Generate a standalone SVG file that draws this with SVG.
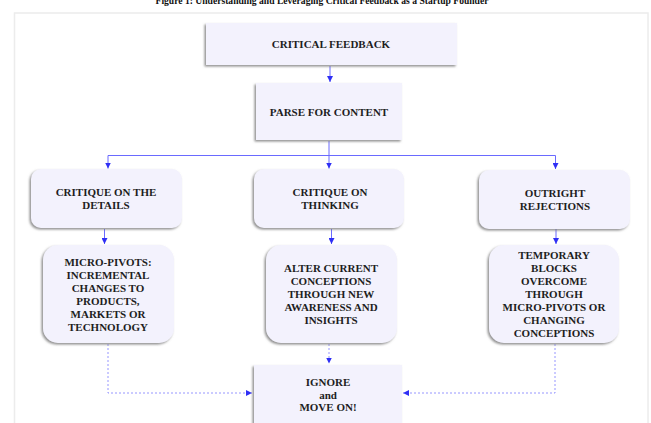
<svg xmlns="http://www.w3.org/2000/svg" width="651" height="423" viewBox="0 0 651 423">
<defs>
<filter id="sh" x="-10%" y="-10%" width="120%" height="125%">
<feDropShadow dx="-1.5" dy="1.5" stdDeviation="0.9" flood-color="#7a7a7a" flood-opacity="0.85"/>
</filter>
<marker id="ah" markerUnits="userSpaceOnUse" markerWidth="6" markerHeight="6" viewBox="0 0 6 6" refX="6" refY="3" orient="auto">
<path d="M0,0 L6,3 L0,6 Z" fill="#2f2ff5"/>
</marker>
</defs>
<style>
.box{fill:#f3f2fd;filter:url(#sh);}
.t{font-family:"Liberation Serif","Times New Roman",serif;font-weight:bold;font-size:11px;fill:#1e1e1e;text-anchor:middle;}
.title{font-family:"Liberation Serif","Times New Roman",serif;font-weight:bold;font-size:9.6px;fill:#111;text-anchor:middle;}
.c{fill:none;stroke:#6a6aff;stroke-width:1;marker-end:url(#ah);}
.d{fill:none;stroke:#8a8aff;stroke-width:0.9;stroke-dasharray:2 2;marker-end:url(#ah);}
</style>
<rect width="651" height="423" fill="#ffffff"/>
<text class="title" x="322" y="4">Figure 1: Understanding and Leveraging Critical Feedback as a Startup Founder</text>
<rect x="14.5" y="13" width="633.5" height="420" fill="none" stroke="#ececec" stroke-width="1.5"/>

<g id="connectors">
<path class="c" d="M330,66 V82"/>
<path class="c" d="M329,141 V155.5 H108 V168.5"/>
<path class="c" d="M329,155.5 V168.5"/>
<path class="c" d="M329,155.5 H555.5 V169"/>
<path class="c" d="M104.5,229 V244"/>
<path class="c" d="M331.5,229 V244"/>
<path class="c" d="M556,229 V244"/>
<path class="d" d="M108,344 V393 H252"/>
<path class="d" d="M329,344 V363.5"/>
<path class="d" d="M555,344 V393 H403"/>
</g>

<g id="critical-feedback">
<rect class="box" x="206" y="23" width="251" height="42"/>
<text class="t" x="331" y="48">CRITICAL FEEDBACK</text>
</g>
<g id="parse-for-content">
<rect class="box" x="256" y="83" width="146" height="57"/>
<text class="t" x="329" y="116">PARSE FOR CONTENT</text>
</g>
<g id="critique-details">
<rect class="box" x="31" y="169" width="151" height="59" rx="10"/>
<text class="t" x="106" y="196"><tspan x="106">CRITIQUE ON THE</tspan><tspan x="106" dy="13">DETAILS</tspan></text>
</g>
<g id="critique-thinking">
<rect class="box" x="254" y="169" width="150" height="59" rx="10"/>
<text class="t" x="330" y="196"><tspan x="330">CRITIQUE ON</tspan><tspan x="330" dy="13">THINKING</tspan></text>
</g>
<g id="outright-rejections">
<rect class="box" x="479" y="170" width="151" height="59" rx="10"/>
<text class="t" x="555" y="197"><tspan x="555">OUTRIGHT</tspan><tspan x="555" dy="13">REJECTIONS</tspan></text>
</g>
<g id="micro-pivots">
<rect class="box" x="43" y="245" width="131" height="98" rx="15"/>
<text class="t" x="108" y="266"><tspan x="108">MICRO-PIVOTS:</tspan><tspan x="108" dy="13">INCREMENTAL</tspan><tspan x="108" dy="13">CHANGES TO</tspan><tspan x="108" dy="13">PRODUCTS,</tspan><tspan x="108" dy="13">MARKETS OR</tspan><tspan x="108" dy="13">TECHNOLOGY</tspan></text>
</g>
<g id="alter-conceptions">
<rect class="box" x="266" y="245" width="131" height="98" rx="15"/>
<text class="t" x="331" y="272"><tspan x="331">ALTER CURRENT</tspan><tspan x="331" dy="13">CONCEPTIONS</tspan><tspan x="331" dy="13">THROUGH NEW</tspan><tspan x="331" dy="13">AWARENESS AND</tspan><tspan x="331" dy="13">INSIGHTS</tspan></text>
</g>
<g id="temporary-blocks">
<rect class="box" x="489" y="245" width="130" height="98" rx="15"/>
<text class="t" x="554" y="259"><tspan x="554">TEMPORARY</tspan><tspan x="554" dy="13">BLOCKS</tspan><tspan x="554" dy="13">OVERCOME</tspan><tspan x="554" dy="13">THROUGH</tspan><tspan x="554" dy="13">MICRO-PIVOTS OR</tspan><tspan x="554" dy="13">CHANGING</tspan><tspan x="554" dy="13">CONCEPTIONS</tspan></text>
</g>
<g id="ignore-move-on">
<rect class="box" x="254" y="365" width="148" height="70"/>
<text class="t" x="328" y="386"><tspan x="328">IGNORE</tspan><tspan x="328" dy="12.5">and</tspan><tspan x="328" dy="12.5">MOVE ON!</tspan></text>
</g>
</svg>
